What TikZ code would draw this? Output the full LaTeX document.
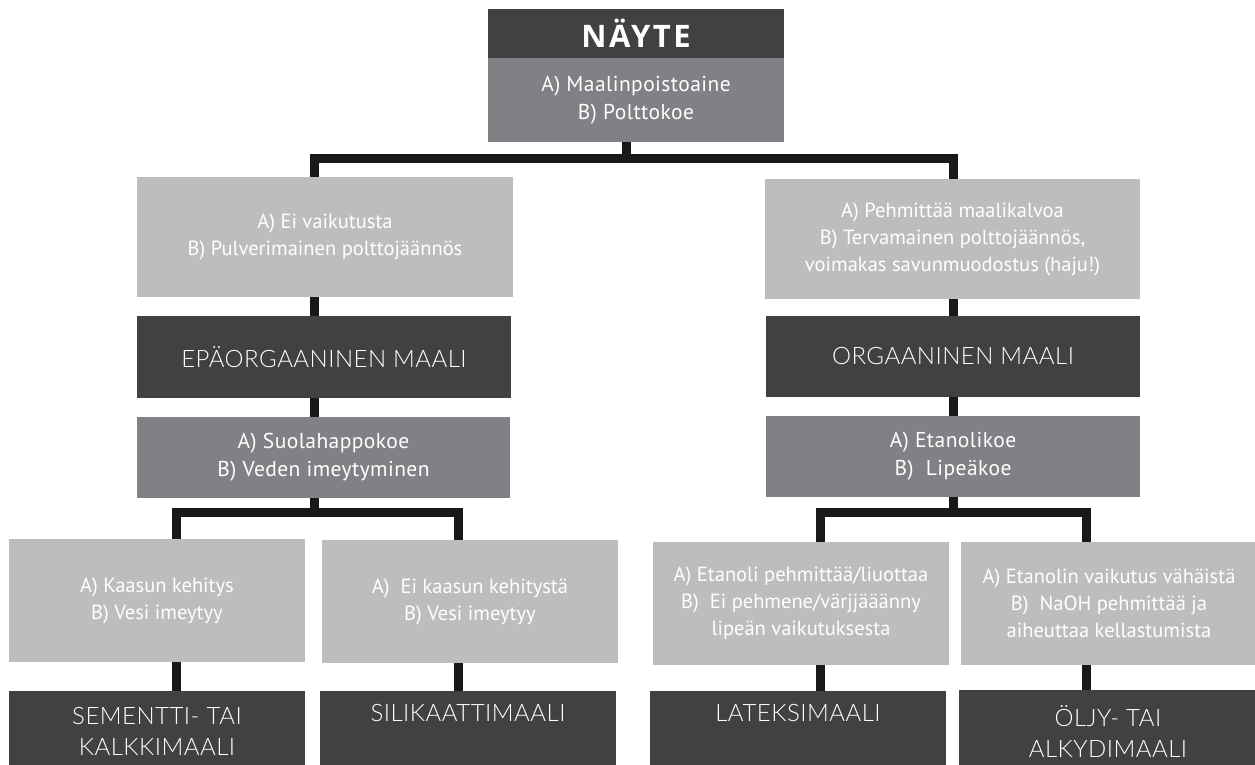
\documentclass[tikz,border=0pt]{standalone}
\usepackage{fontspec}
\setmainfont{PT Sans}
\newfontfamily\condfont{PT Sans}
\newfontfamily\titlefont{Lato Light}[LetterSpace=2]
\newfontfamily\headfont{Open Sans}[LetterSpace=8]
\definecolor{darkbox}{RGB}{65,65,66}
\definecolor{midbox}{RGB}{128,129,132}
\definecolor{lightbox}{RGB}{188,189,191}
\definecolor{connc}{RGB}{26,24,27}
\begin{document}
\begin{tikzpicture}[x=1bp,y=-1bp,
  box/.style={rectangle,inner sep=0pt,outer sep=0pt,text=white,align=center},
  darkb/.style={box,fill=darkbox},
  midb/.style={box,fill=midbox,font=\addfontfeatures{LetterSpace=2}\fontsize{21.5bp}{28bp}\selectfont},
  lightb/.style={box,fill=lightbox,font=\condfont\fontsize{20.5bp}{27bp}\selectfont},
  midtitle/.style={darkb,font=\titlefont\fontsize{24bp}{30bp}\selectfont},
  bottitle/.style={darkb,font=\titlefont\fontsize{24bp}{31bp}\selectfont},
  conn/.style={draw=connc,line width=9bp,line cap=butt,line join=miter}]
\useasboundingbox (0,0) rectangle (1255,765);
% boxes
\node[darkb,minimum width=296bp,minimum height=49bp,font=\headfont\bfseries\fontsize{31bp}{36bp}\selectfont] (top1) at (636,33.5) {NÄYTE};
\node[midb,minimum width=296bp,minimum height=84bp] (top2) at (636,100) {A) Maalinpoistoaine\\B) Polttokoe};
\node[lightb,minimum width=376bp,minimum height=120bp] (L1) at (325,237) {A) Ei vaikutusta\\B) Pulverimainen polttojäännös};
\node[lightb,minimum width=375bp,minimum height=120bp] (R1) at (952.5,239) {A) Pehmittää maalikalvoa\\B) Tervamainen polttojäännös,\\voimakas savunmuodostus (haju!)};
\node[midtitle,minimum width=374bp,minimum height=82bp] (L2) at (324,357) {EPÄORGAANINEN MAALI};
\node[midtitle,minimum width=374bp,minimum height=81bp] (R2) at (953,356.5) {ORGAANINEN MAALI};
\node[midb,minimum width=373bp,minimum height=81bp] (L3) at (323.5,457.5) {A) Suolahappokoe\\B) Veden imeytyminen};
\node[midb,minimum width=374bp,minimum height=81bp] (R3) at (953,456.5) {A) Etanolikoe\\B)\ \ Lipeäkoe};
\node[lightb,minimum width=296bp,minimum height=123bp] (B1) at (157,600.5) {A) Kaasun kehitys\\B) Vesi imeytyy};
\node[lightb,minimum width=296bp,minimum height=123bp] (B2) at (470,601.5) {A)\ \ Ei kaasun kehitystä\\B) Vesi imeytyy};
\node[lightb,minimum width=296bp,minimum height=123bp] (B3) at (801,603) {A) Etanoli pehmittää/liuottaa\\B)\ \ Ei pehmene/värjjääänny\\lipeän vaikutuksesta};
\node[lightb,minimum width=296bp,minimum height=123bp] (B4) at (1109,603) {A) Etanolin vaikutus vähäistä\\B)\ \ NaOH pehmittää ja\\aiheuttaa kellastumista};
\node[darkb,minimum width=296bp,minimum height=84bp,anchor=north] (D1) at (157,691) {};
\node[darkb,minimum width=296bp,minimum height=84bp,anchor=north] (D2) at (468,691) {};
\node[darkb,minimum width=296bp,minimum height=84bp,anchor=north] (D3) at (798,691) {};
\node[darkb,minimum width=298bp,minimum height=84bp,anchor=north] (D4) at (1108,690) {};
\node[bottitle,fill=none] (D1t) at (157,731.5) {SEMENTTI- TAI\\KALKKIMAALI};
\node[bottitle,fill=none] (D2t) at (468,713) {SILIKAATTIMAALI};
\node[bottitle,fill=none] (D3t) at (798,713) {LATEKSIMAALI};
\node[bottitle,fill=none] (D4t) at (1108,731.5) {ÖLJY- TAI\\ALKYDIMAALI};
% connector positions
\coordinate (xT) at (626,0);
\coordinate (xL) at (314.5,0);
\coordinate (xR) at (953,0);
\coordinate (xLL) at (176.5,0);
\coordinate (xLR) at (458.5,0);
\coordinate (xRL) at (820.5,0);
\coordinate (xRR) at (1086.5,0);
\coordinate (bus1) at (0,158);
\coordinate (bus2) at (0,512);
% connectors
\draw[conn] (xT |- top2.south) -- (xT |- bus1);
\draw[conn] (xL |- L1.north) -- (xL |- bus1) -- (xR |- bus1) -- (xR |- R1.north);
\draw[conn] (xL |- L1.south) -- (xL |- L2.north);
\draw[conn] (xL |- L2.south) -- (xL |- L3.north);
\draw[conn] (xR |- R1.south) -- (xR |- R2.north);
\draw[conn] (xR |- R2.south) -- (xR |- R3.north);
\draw[conn] (xL |- L3.south) -- (xL |- bus2);
\draw[conn] (xLL |- B1.north) -- (xLL |- bus2) -- (xLR |- bus2) -- (xLR |- B2.north);
\draw[conn] (xR |- R3.south) -- (xR |- bus2);
\draw[conn] (xRL |- B3.north) -- (xRL |- bus2) -- (xRR |- bus2) -- (xRR |- B4.north);
\draw[conn] (xLL |- B1.south) -- (xLL |- D1.north);
\draw[conn] (xLR |- B2.south) -- (xLR |- D2.north);
\draw[conn] (xRL |- B3.south) -- (xRL |- D3.north);
\draw[conn] (xRR |- B4.south) -- (xRR |- D4.north);
\end{tikzpicture}
\end{document}
